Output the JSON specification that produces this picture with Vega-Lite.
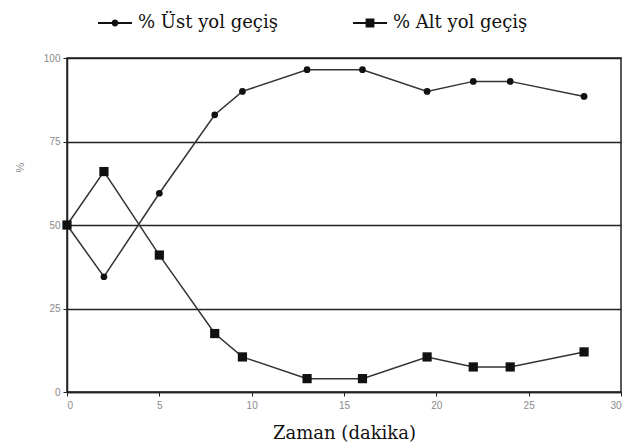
{
  "$schema": "https://vega.github.io/schema/vega-lite/v6.json",
  "autosize": {"type": "none"},
  "width": 554,
  "height": 334,
  "padding": {"left": 67, "top": 58, "right": 5, "bottom": 53},
  "background": "white",
  "config": {
    "view": {"stroke": "#222", "strokeWidth": 1.5},
    "axis": {
      "labelFont": "Liberation Sans",
      "labelFontSize": 10,
      "labelColor": "#8a8a8a",
      "domainColor": "#222",
      "domainWidth": 1.5,
      "tickColor": "#222",
      "tickSize": 4,
      "titleFontWeight": "normal"
    }
  },
  "data": {
    "values": [
      {"t": 0, "series": "% Üst yol geçiş", "value": 50},
      {"t": 2, "series": "% Üst yol geçiş", "value": 34.5},
      {"t": 5, "series": "% Üst yol geçiş", "value": 59.5},
      {"t": 8, "series": "% Üst yol geçiş", "value": 83},
      {"t": 9.5, "series": "% Üst yol geçiş", "value": 90},
      {"t": 13, "series": "% Üst yol geçiş", "value": 96.5},
      {"t": 16, "series": "% Üst yol geçiş", "value": 96.5},
      {"t": 19.5, "series": "% Üst yol geçiş", "value": 90},
      {"t": 22, "series": "% Üst yol geçiş", "value": 93},
      {"t": 24, "series": "% Üst yol geçiş", "value": 93},
      {"t": 28, "series": "% Üst yol geçiş", "value": 88.5},
      {"t": 0, "series": "% Alt yol geçiş", "value": 50},
      {"t": 2, "series": "% Alt yol geçiş", "value": 66},
      {"t": 5, "series": "% Alt yol geçiş", "value": 41},
      {"t": 8, "series": "% Alt yol geçiş", "value": 17.5},
      {"t": 9.5, "series": "% Alt yol geçiş", "value": 10.5},
      {"t": 13, "series": "% Alt yol geçiş", "value": 4},
      {"t": 16, "series": "% Alt yol geçiş", "value": 4},
      {"t": 19.5, "series": "% Alt yol geçiş", "value": 10.5},
      {"t": 22, "series": "% Alt yol geçiş", "value": 7.5},
      {"t": 24, "series": "% Alt yol geçiş", "value": 7.5},
      {"t": 28, "series": "% Alt yol geçiş", "value": 12}
    ]
  },
  "encoding": {
    "x": {
      "field": "t",
      "type": "quantitative",
      "scale": {"domain": [0, 30], "nice": false},
      "axis": {
        "values": [0, 5, 10, 15, 20, 25, 30],
        "grid": false,
        "title": "Zaman (dakika)",
        "titleFont": "DejaVu Serif",
        "titleFontSize": 18,
        "titleColor": "#111",
        "titleBaseline": "alphabetic",
        "titleY": 46,
        "labelPadding": 4
      }
    },
    "y": {
      "field": "value",
      "type": "quantitative",
      "scale": {"domain": [0, 100], "nice": false},
      "axis": {
        "values": [0, 25, 50, 75, 100],
        "grid": true,
        "gridColor": "#222",
        "gridWidth": 1.5,
        "gridOpacity": 1,
        "title": "%",
        "titleFont": "Liberation Sans",
        "titleFontSize": 11,
        "titleColor": "#8a8a8a",
        "titleX": -47,
        "titleY": 109,
        "titleAngle": 270,
        "titleBaseline": "middle",
        "titleAlign": "center",
        "labelPadding": 3
      }
    }
  },
  "layer": [
    {
      "mark": {"type": "line", "strokeWidth": 1.5},
      "encoding": {
        "color": {
          "field": "series",
          "type": "nominal",
          "scale": {"domain": ["% Üst yol geçiş", "% Alt yol geçiş"], "range": ["#333", "#333"]},
          "legend": {
            "title": null,
            "orient": "none",
            "direction": "horizontal",
            "legendX": 31,
            "legendY": -52,
            "symbolSize": 1156,
            "symbolStrokeWidth": 0,
            "labelFont": "DejaVu Serif",
            "labelFontSize": 18,
            "labelColor": "#111",
            "labelOffset": 6,
            "columnPadding": 75,
            "encode": {
              "symbols": {
                "update": {
                  "shape": {"signal": "datum.value === '% Üst yol geçiş' ? 'M-1,-0.06H1V0.06H-1Z M-0.2,0A0.2,0.2 0 1,1 0.2,0A0.2,0.2 0 1,1 -0.2,0Z' : 'M-1,-0.06H1V0.06H-1Z M-0.26,-0.26H0.26V0.26H-0.26Z'"},
                  "fill": {"value": "#111"},
                  "fillOpacity": {"value": 1},
                  "stroke": {"value": "transparent"},
                  "strokeWidth": {"value": 0}
                }
              }
            }
          }
        }
      }
    },
    {
      "transform": [{"filter": "datum.series === '% Üst yol geçiş'"}],
      "mark": {"type": "point", "shape": "circle", "size": 45, "filled": true, "opacity": 1, "color": "#111"}
    },
    {
      "transform": [{"filter": "datum.series === '% Alt yol geçiş'"}],
      "mark": {"type": "point", "shape": "square", "size": 85, "filled": true, "opacity": 1, "color": "#111"}
    }
  ]
}
